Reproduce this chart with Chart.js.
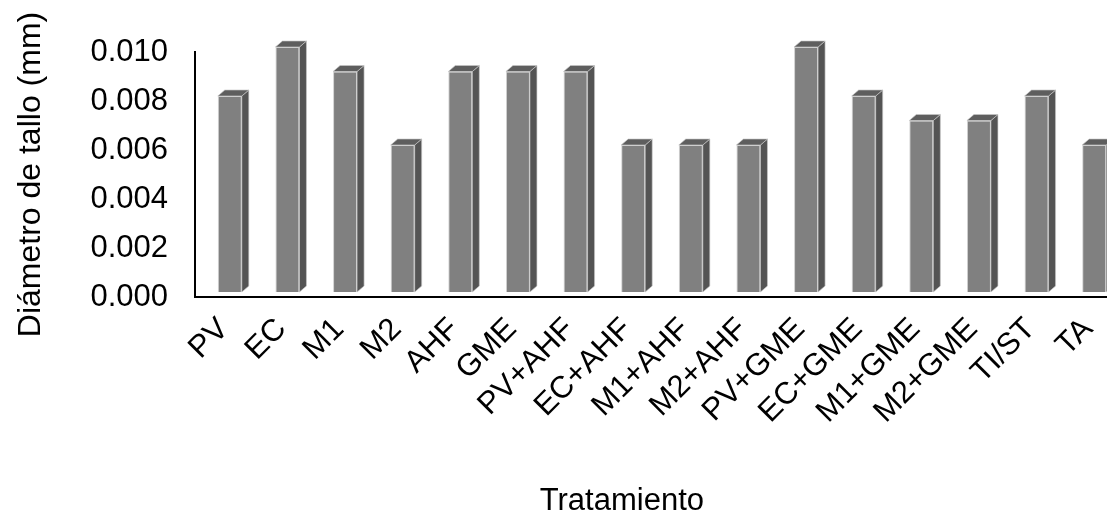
<!DOCTYPE html>
<html>
<head>
<meta charset="utf-8">
<script src="https://cdn.jsdelivr.net/npm/chart.js@4/dist/chart.umd.min.js"></script>
<style>
  html, body { margin: 0; padding: 0; background: #ffffff; overflow: hidden; }
  #wrap { width: 1107px; height: 514px; overflow: hidden; }
  #chart { display: block; }
</style>
</head>
<body>
<div id="wrap"><canvas id="chart" width="1117" height="514"></canvas></div>
<script>
// Treatments and mean stem diameter (mm)
const categories = ['PV', 'EC', 'M1', 'M2', 'AHF', 'GME', 'PV+AHF', 'EC+AHF', 'M1+AHF', 'M2+AHF',
                    'PV+GME', 'EC+GME', 'M1+GME', 'M2+GME', 'TI/ST', 'TA'];
const diameterValues = [0.008, 0.010, 0.009, 0.006, 0.009, 0.009, 0.009, 0.006, 0.006, 0.006,
                        0.010, 0.008, 0.007, 0.007, 0.008, 0.006];
const yTickValues = [0.000, 0.002, 0.004, 0.006, 0.008, 0.010];
const yTickLabels = ['0.000', '0.002', '0.004', '0.006', '0.008', '0.010'];
const xTitle = 'Tratamiento';
const yTitle = 'Diámetro de tallo (mm)';

const FONT = "'Liberation Sans', Arial, Helvetica, sans-serif";

// Column look: front face drawn by Chart.js, side and top faces added as an extrusion
const depth = { dx: 7, dy: 6 };
const shift = { x: 6, y: -5 };

const columns3d = {
  id: 'columns3d',
  beforeDatasetsDraw(chart) {
    chart.ctx.save();
    chart.ctx.translate(shift.x, shift.y);
  },
  afterDatasetsDraw(chart) {
    const ctx = chart.ctx;
    const meta = chart.getDatasetMeta(0);
    meta.data.forEach((el) => {
      const p = el.getProps(['x', 'y', 'base', 'width'], true);
      const l = p.x - p.width / 2;
      const r = p.x + p.width / 2;
      ctx.strokeStyle = 'rgba(200,200,200,0.8)';
      ctx.lineWidth = 0.8;
      // side face
      ctx.beginPath();
      ctx.moveTo(r, p.y);
      ctx.lineTo(r + depth.dx, p.y - depth.dy);
      ctx.lineTo(r + depth.dx, p.base - depth.dy);
      ctx.lineTo(r, p.base);
      ctx.closePath();
      ctx.fillStyle = '#545454';
      ctx.fill();
      ctx.stroke();
      // top face
      ctx.beginPath();
      ctx.moveTo(l, p.y);
      ctx.lineTo(l + depth.dx, p.y - depth.dy);
      ctx.lineTo(r + depth.dx, p.y - depth.dy);
      ctx.lineTo(r, p.y);
      ctx.closePath();
      ctx.fillStyle = '#5e5e5e';
      ctx.fill();
      ctx.stroke();
    });
    ctx.restore();
  }
};

// Category axis title, placed under the visible part of the plot
const xAxisTitle = {
  id: 'xAxisTitle',
  afterDraw(chart) {
    const ctx = chart.ctx;
    const area = chart.chartArea;
    ctx.save();
    ctx.font = '31px ' + FONT;
    ctx.fillStyle = '#000000';
    ctx.textAlign = 'center';
    ctx.textBaseline = 'middle';
    ctx.fillText(xTitle, area.left + (area.right - area.left) * 0.463, chart.height - 13);
    ctx.restore();
  }
};

new Chart(document.getElementById('chart'), {
  type: 'bar',
  data: {
    labels: categories,
    datasets: [{
      data: diameterValues,
      backgroundColor: '#808080',
      borderColor: 'rgba(205,205,205,0.9)',
      borderWidth: 1,
      categoryPercentage: 1,
      barPercentage: 0.417,
      clip: false
    }]
  },
  options: {
    responsive: false,
    devicePixelRatio: 1,
    animation: false,
    layout: { padding: { top: 52, left: 0, right: 0, bottom: 0 } },
    plugins: { legend: { display: false }, tooltip: { enabled: false } },
    scales: {
      x: {
        afterFit(scale) {
          scale.height = 217;
          scale.paddingLeft = 0;
          scale.paddingRight = 0;
        },
        grid: { display: false, drawTicks: false },
        border: { display: true, color: '#000000', width: 2 },
        ticks: {
          autoSkip: false, minRotation: 45, maxRotation: 45,
          color: '#000000', padding: 14,
          font: { family: FONT, size: 31 }
        },
        title: { display: false }
      },
      y: {
        min: 0, max: 0.010,
        afterBuildTicks(scale) { scale.ticks = yTickValues.map(v => ({ value: v })); },
        afterFit(scale) { scale.width = 195; },
        grid: { display: false, drawTicks: false },
        border: { display: true, color: '#000000', width: 2 },
        ticks: {
          color: '#000000', padding: 27,
          font: { family: FONT, size: 31 },
          callback: (v, i) => yTickLabels[i]
        },
        title: {
          display: true, text: yTitle, color: '#000000',
          font: { family: FONT, size: 32 },
          padding: { top: 12, bottom: 13 }
        }
      }
    }
  },
  plugins: [columns3d, xAxisTitle]
});
</script>
</body>
</html>
